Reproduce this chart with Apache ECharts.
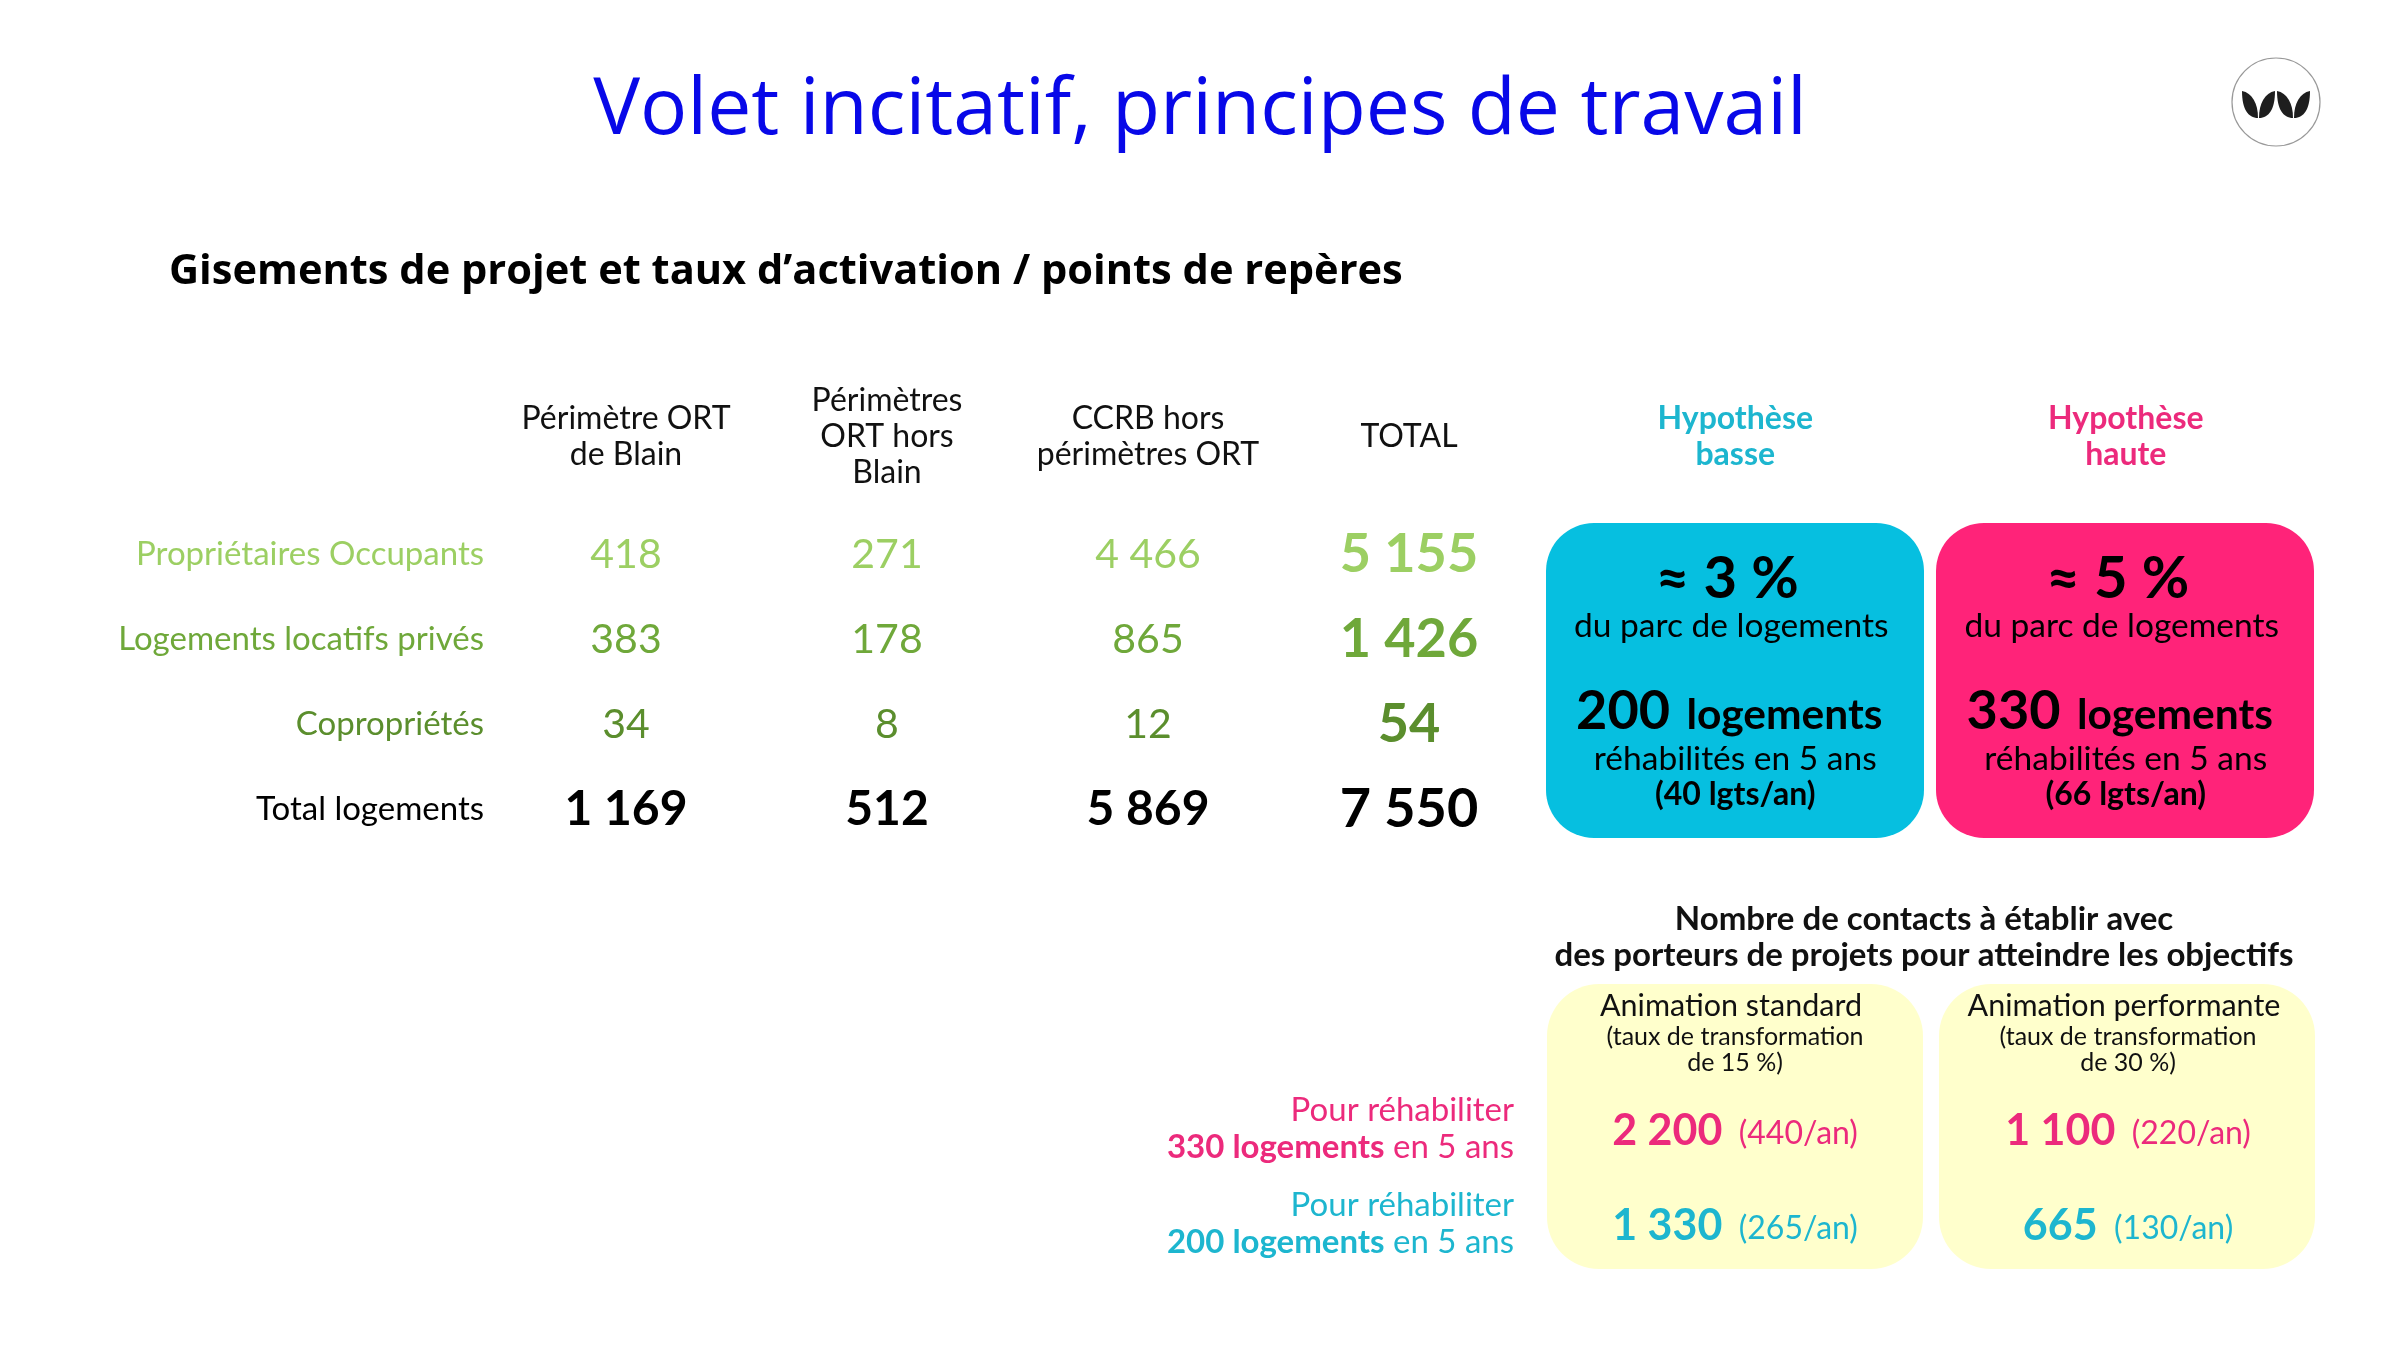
<!DOCTYPE html>
<html lang="fr">
<head>
<meta charset="utf-8">
<title>Volet incitatif, principes de travail</title>
<script src="https://cdn.jsdelivr.net/npm/echarts@6/dist/echarts.min.js"></script>
<style>html,body{margin:0;background:#fff}#chart{width:2400px;height:1350px}</style>
</head>
<body>
<div id="chart"></div>
<script>
// donnees du tableau
const tableColumns = ['Périmètre ORT\nde Blain', 'Périmètres\nORT hors\nBlain', 'CCRB hors\npérimètres ORT', 'TOTAL']
const tableRows = ['Propriétaires Occupants', 'Logements locatifs privés', 'Copropriétés', 'Total logements']
const proprietaires = [418, 271, 4466, 5155]
const locatifs = [383, 178, 865, 1426]
const coproprietes = [34, 8, 12, 54]
const totalLogements = [1169, 512, 5869, 7550]

// hypotheses
const hypotheses = ['Hypothèse\nbasse', 'Hypothèse\nhaute']
const partParc = [3, 5]
const logementsRehab = [200, 330]
const logementsParAn = [40, 66]

// contacts
const animations = ['Animation standard', 'Animation performante']
const tauxTransfo = [15, 30]
const objectifs = [330, 200]
const contactsStandard = [2200, 1330]
const contactsStandardAn = [440, 265]
const contactsPerf = [1100, 665]
const contactsPerfAn = [220, 130]

const FONT = 'Lato'
const CYAN = '#06bfe0', PINK = '#ff2379', YELLOW = '#ffffcc'
const CYAN_TXT = '#1db6cf', PINK_TXT = '#ec2a7c'
const rowColors = ['#9ccf63', '#6fa83a', '#5b8e2d', '#000000']
const objectifColors = [PINK_TXT, CYAN_TXT]

const fmt = n => String(n).replace(/\B(?=(\d{3})+$)/g, ' ')

const hidden = {axisLine: {show: false}, axisTick: {show: false}, splitLine: {show: false}}
// le scatter a une opacite de 0.8 par defaut, elle passe aux labels
const noSymbol = {color: 'transparent', opacity: 1}

// la colonne TOTAL et la ligne du bas sont en gras
const tableSeries = [proprietaires, locatifs, coproprietes, totalLogements].map((vals, r) => ({
    type: 'scatter', xAxisIndex: 0, yAxisIndex: 0, symbolSize: 1, itemStyle: noSymbol, silent: true,
    data: vals.map((v, c) => ({
        value: [c, r, v],
        label: {fontWeight: (c == 3 || r == 3) ? 'bold' : 'normal', fontSize: c == 3 ? 54 : (r == 3 ? 48 : 41)}
    })),
    label: {
        show: true, position: 'inside',
        formatter: p => fmt(p.value[2]),
        fontFamily: FONT,
        color: rowColors[r]
    }
}))

// lignes des cartes : decalage par rapport au centre de la carte
const cardLines = [
    {dx: -8, dy: -101, text: i => '≈ ' + partParc[i] + ' %', size: 58, weight: 'bold'},
    {dx: -4, dy: -54, text: i => 'du parc de logements', size: 33.5, weight: 'normal'},
    {dx: -6, dy: 31, text: i => '{a|' + logementsRehab[i] + '}{b| logements}', size: 40, weight: 'bold'},
    {dx: 0, dy: 79, text: i => 'réhabilités en 5 ans', size: 33.5, weight: 'normal'},
    {dx: 0, dy: 114, text: i => '(' + logementsParAn[i] + ' lgts/an)', size: 32, weight: 'bold'}
]
const cardSeries = cardLines.map(l => ({
    type: 'scatter', xAxisIndex: 1, yAxisIndex: 1, symbolSize: 1, itemStyle: noSymbol, silent: true,
    data: hypotheses.map((h, i) => [i, 0.5, i]),
    label: {
        show: true, position: 'inside', offset: [l.dx, l.dy],
        formatter: p => l.text(p.value[2]),
        fontFamily: FONT, fontSize: l.size, fontWeight: l.weight, color: '#000',
        rich: {
            a: {fontFamily: FONT, fontSize: 54, fontWeight: 'bold', color: '#000', verticalAlign: 'bottom'},
            b: {fontFamily: FONT, fontSize: 42.5, fontWeight: 'bold', color: '#000', verticalAlign: 'bottom', padding: [0, 0, 2, 6]}
        }
    }
}))

const contactSeries = [[contactsStandard, contactsStandardAn], [contactsPerf, contactsPerfAn]].map((pair, c) => ({
    type: 'scatter', xAxisIndex: 2, yAxisIndex: 2, symbolSize: 1, itemStyle: noSymbol, silent: true,
    data: pair[0].map((v, r) => [c, r, v, pair[1][r]]),
    label: {
        show: true, position: 'inside',
        formatter: p => '{n' + p.value[1] + '|' + fmt(p.value[2]) + '}{a' + p.value[1] + '|  (' + p.value[3] + '/an)}',
        rich: {
            n0: {fontFamily: FONT, fontSize: 43, fontWeight: 'bold', color: PINK_TXT, verticalAlign: 'bottom'},
            a0: {fontFamily: FONT, fontSize: 32, color: PINK_TXT, verticalAlign: 'bottom', padding: [0, 0, 3, 0]},
            n1: {fontFamily: FONT, fontSize: 43, fontWeight: 'bold', color: CYAN_TXT, verticalAlign: 'bottom'},
            a1: {fontFamily: FONT, fontSize: 32, color: CYAN_TXT, verticalAlign: 'bottom', padding: [0, 0, 3, 0]}
        }
    }
}))

// logo : quatre feuilles
const leaves = [['M0 0C10 2 16 12 16 27C6 27 0 18 0 0Z', 2242], ['M16 0C6 2 0 12 0 27C10 27 16 18 16 0Z', 2259],
    ['M0 0C10 2 16 12 16 27C6 27 0 18 0 0Z', 2277], ['M16 0C6 2 0 12 0 27C10 27 16 18 16 0Z', 2294]]
const logoSeries = {
    type: 'custom', coordinateSystem: 'none', silent: true, z: 5, data: [0],
    renderItem: () => ({
        type: 'group',
        children: leaves.map(l => ({
            type: 'path',
            shape: {pathData: l[0], x: l[1], y: 91, width: 16, height: 27, layout: 'cover'},
            style: {fill: '#1e1e1e'}
        }))
    })
}

const options = {
    animation: false,
    backgroundColor: '#fff',
    title: [
        {text: 'Volet incitatif, principes de travail', left: 'center', top: 67,
            textStyle: {fontFamily: 'Open Sans', fontSize: 78.6, fontWeight: 'normal', color: '#0808e8'}},
        {text: 'Gisements de projet et taux d’activation / points de repères', left: 164, top: 246,
            textStyle: {fontFamily: 'Open Sans', fontSize: 41.6, fontWeight: 'bold', color: '#000'}},
        {text: 'Nombre de contacts à établir avec\ndes porteurs de projets pour atteindre les objectifs',
            left: 1919, top: 896, textAlign: 'center',
            textStyle: {fontFamily: FONT, fontSize: 33, fontWeight: 'bold', color: '#111', lineHeight: 36}}
    ],
    grid: [
        {left: 495.5, top: 512, width: 1044, height: 340},
        {left: 1540, top: 523, width: 781, height: 315},
        {left: 1538.5, top: 1083.5, width: 786, height: 190}
    ],
    xAxis: [
        {gridIndex: 0, type: 'category', position: 'top', data: tableColumns, ...hidden,
            axisLabel: {interval: 0, margin: 75, verticalAlign: 'middle', fontFamily: FONT, fontSize: 32, color: '#111', lineHeight: 36}},
        {gridIndex: 1, type: 'category', position: 'top', data: hypotheses, ...hidden,
            axisLabel: {interval: 0, margin: 86, verticalAlign: 'middle', fontFamily: FONT, fontSize: 32, fontWeight: 'bold', lineHeight: 36,
                color: (v, i) => [CYAN_TXT, PINK_TXT][i]}},
        {gridIndex: 2, type: 'category', position: 'top', data: animations, ...hidden,
            axisLabel: {interval: 0, margin: 8, fontFamily: FONT,
                formatter: (v, i) => '{t|' + v + '}\n{s|(taux de transformation}\n{s|de ' + tauxTransfo[i] + ' %)}',
                rich: {t: {fontFamily: FONT, fontSize: 30.5, color: '#111', lineHeight: 34, padding: [0, 8, 0, 0]},
                    s: {fontFamily: FONT, fontSize: 25, color: '#111', lineHeight: 26}}}}
    ],
    yAxis: [
        {gridIndex: 0, type: 'category', inverse: true, data: tableRows, ...hidden,
            axisLabel: {interval: 0, margin: 11.5, fontFamily: FONT, fontSize: 33, color: (v, i) => rowColors[i], padding: [0, 0, 2, 0]}},
        {gridIndex: 1, type: 'value', min: 0, max: 1, show: false, ...hidden},
        {gridIndex: 2, type: 'category', inverse: true, data: objectifs, ...hidden,
            axisLabel: {interval: 0, margin: 24.5, align: 'right', padding: [0, 0, 5, 0],
                formatter: (v, i) => '{p' + i + '|Pour réhabiliter}\n{b' + i + '|' + v + ' logements}{p' + i + '| en 5 ans}',
                rich: {
                    p0: {fontFamily: FONT, fontSize: 33, color: objectifColors[0], lineHeight: 37, align: 'right'},
                    b0: {fontFamily: FONT, fontSize: 33, fontWeight: 'bold', color: objectifColors[0], lineHeight: 37},
                    p1: {fontFamily: FONT, fontSize: 33, color: objectifColors[1], lineHeight: 37, align: 'right'},
                    b1: {fontFamily: FONT, fontSize: 33, fontWeight: 'bold', color: objectifColors[1], lineHeight: 37}
                }}}
    ],
    graphic: [
        {type: 'rect', shape: {x: 1546, y: 523, width: 378, height: 315, r: 48}, style: {fill: CYAN}},
        {type: 'rect', shape: {x: 1936, y: 523, width: 378, height: 315, r: 48}, style: {fill: PINK}},
        {type: 'rect', shape: {x: 1547, y: 984, width: 376, height: 285, r: 52}, style: {fill: YELLOW}},
        {type: 'rect', shape: {x: 1939, y: 984, width: 376, height: 285, r: 52}, style: {fill: YELLOW}},
        {type: 'circle', shape: {cx: 2276, cy: 102, r: 44}, style: {fill: '#fff', stroke: '#999999', lineWidth: 1.2}}
    ],
    series: [...tableSeries, ...cardSeries, ...contactSeries, logoSeries]
}

const chart = echarts.init(document.getElementById('chart'), null, {width: 2400, height: 1350})
chart.setOption(options)
</script>
</body>
</html>
